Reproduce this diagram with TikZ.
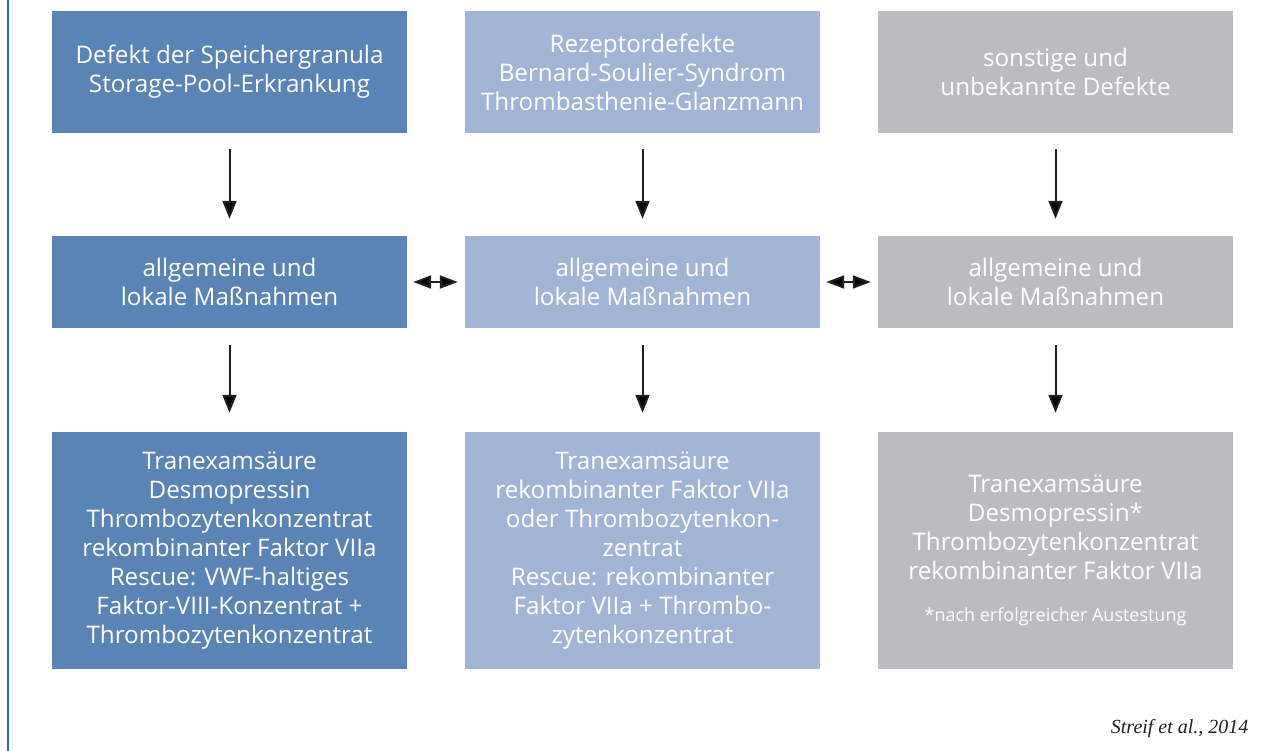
\documentclass[tikz,border=0pt]{standalone}
\usepackage{fontspec}
\setmainfont{Open Sans}
\newfontfamily\citefont{Liberation Serif}
\usepackage{tikz}
\usetikzlibrary{arrows.meta,matrix,positioning}

\definecolor{boxdark}{HTML}{5A84B5}
\definecolor{boxlight}{HTML}{A3B5D6}
\definecolor{boxgrey}{HTML}{BBBCC0}
\definecolor{edgeblue}{HTML}{2A6CA8}
\definecolor{arrowblack}{HTML}{231F20}

\tikzset{
  cell/.style={anchor=center,inner sep=0pt,minimum width=355pt,align=center,
    text=white,font=\fontsize{24.2}{29}\selectfont},
  flow/.style={draw=arrowblack,line width=2pt,-{Triangle[length=18pt,width=14pt]}},
  link/.style={draw=arrowblack,line width=2pt,
    {Triangle[length=18pt,width=13pt]}-{Triangle[length=18pt,width=13pt]},
    shorten <=6pt,shorten >=7pt}
}

\begin{document}
\begin{tikzpicture}[x=1pt,y=-1pt]
\useasboundingbox (0,0) rectangle (1271,751);
\draw[edgeblue,line width=2pt] (8,0) -- (8,751);
\matrix [column sep=58pt,row sep=103pt,nodes=cell,
  column 1/.style={nodes={fill=boxdark}},
  column 2/.style={nodes={fill=boxlight}},
  column 3/.style={nodes={fill=boxgrey}},
  row 1/.style={nodes={minimum height=122pt}},
  row 2/.style={nodes={minimum height=92pt}},
  row 3/.style={nodes={minimum height=237pt}}] (m) at (642.5,340)
{
  \node (d1) {Defekt der Speichergranula\\Storage-Pool-Erkrankung}; &
  \node (d2) {Rezeptordefekte\\Bernard-Soulier-Syndrom\\Thrombasthenie-Glanzmann}; &
  \node (d3) {sonstige und\\unbekannte Defekte};\\
  \node (a1) {allgemeine und\\lokale Maßnahmen}; &
  \node (a2) {allgemeine und\\lokale Maßnahmen}; &
  \node (a3) {allgemeine und\\lokale Maßnahmen};\\[1pt]
  \node (t1) {Tranexamsäure\\Desmopressin\\Thrombozytenkonzentrat\\rekombinanter Faktor VIIa\\Rescue: VWF-haltiges\\Faktor-VIII-Konzentrat +\\Thrombozytenkonzentrat}; &
  \node (t2) {Tranexamsäure\\rekombinanter Faktor VIIa\\oder Thrombozytenkon-\\zentrat\\Rescue: rekombinanter\\Faktor VIIa + Thrombo-\\zytenkonzentrat}; &
  \node (t3) {Tranexamsäure\\Desmopressin*\\Thrombozytenkonzentrat\\rekombinanter Faktor VIIa\\[13pt]{\fontsize{18}{21}\selectfont *nach erfolgreicher Austestung}};\\
};
\foreach \c in {1,2,3}{
  \path[flow,shorten <=16pt,shorten >=17pt] (d\c) edge (a\c);
  \path[flow,shorten <=17pt,shorten >=19pt] (a\c) edge (t\c);
}
\path[link] (a1) edge (a2);
\path[link] (a2) edge (a3);
\node[anchor=base east,text=arrowblack,font=\citefont\itshape\fontsize{20}{24}\selectfont] (cite) at (1252,733) {Streif et al., 2014};
\end{tikzpicture}
\end{document}
